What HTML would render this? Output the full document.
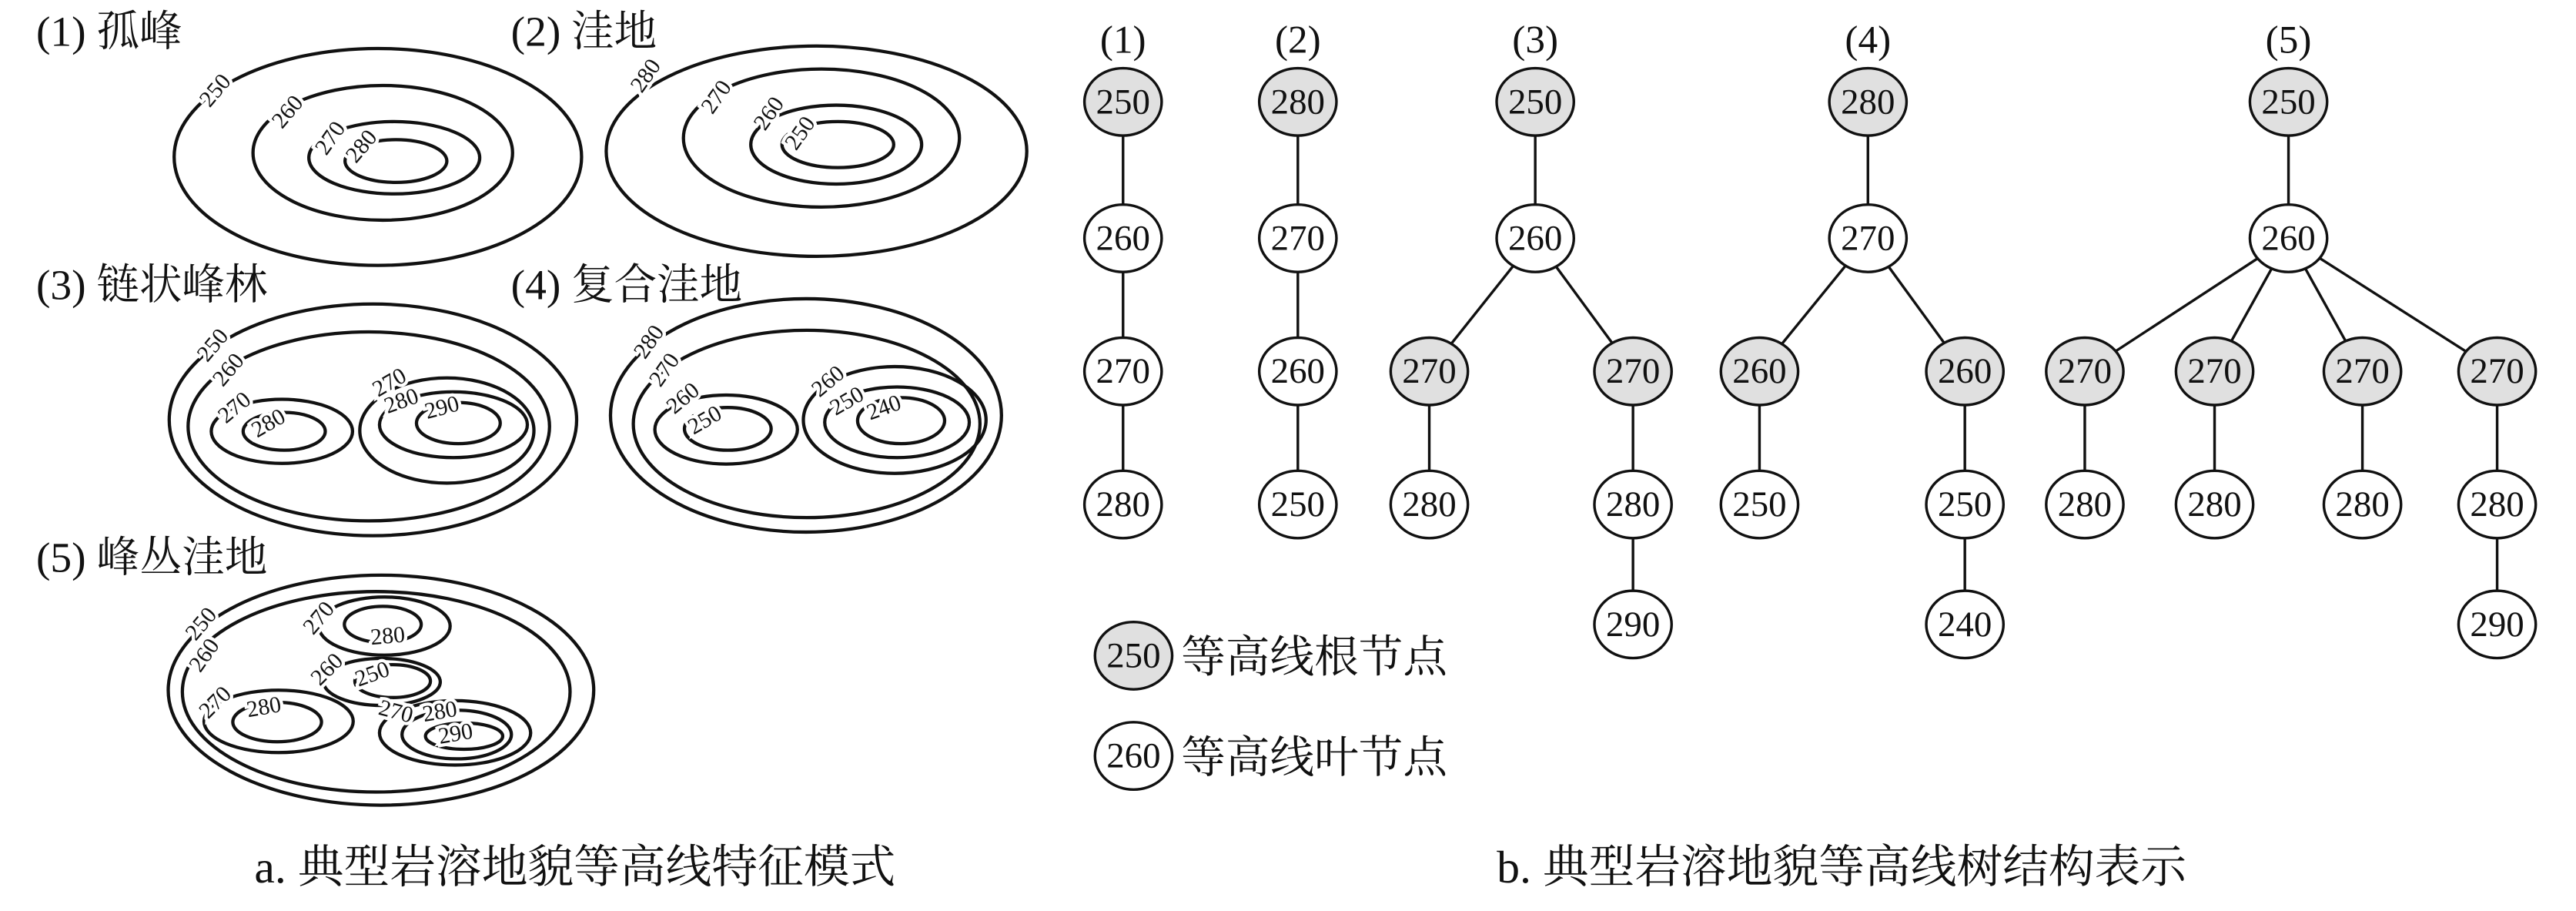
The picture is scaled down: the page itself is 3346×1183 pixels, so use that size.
<!DOCTYPE html>
<html><head><meta charset="utf-8"><style>
html,body{margin:0;padding:0;background:#fff;}
svg{display:block;}
text{font-family:"Liberation Serif","Noto Serif CJK SC",serif;fill:#111;}
.c{fill:none;stroke:#111;stroke-width:2;}
.l{font-size:14px;text-anchor:middle;dominant-baseline:central;}
.n{font-size:22px;text-anchor:middle;dominant-baseline:central;}
.e{stroke:#111;stroke-width:1.6;}
.h{font-size:26px;}
</style></head><body>
<svg width="3346" height="1183" viewBox="0 0 1568 554.4" preserveAspectRatio="none" xmlns="http://www.w3.org/2000/svg">
<text class="h" x="22" y="28">(1) 孤峰</text>
<text class="h" x="311" y="28">(2) 洼地</text>
<text class="h" x="22" y="182">(3) 链状峰林</text>
<text class="h" x="311" y="182">(4) 复合洼地</text>
<text class="h" x="22" y="348">(5) 峰丛洼地</text>
<!-- (1) -->
<ellipse class="c" cx="230" cy="95.5" rx="124" ry="66"/>
<ellipse class="c" cx="233" cy="93" rx="79" ry="41"/>
<ellipse class="c" cx="240" cy="96" rx="52" ry="22"/>
<ellipse class="c" cx="241" cy="98" rx="31" ry="13"/>
<!-- (2) -->
<ellipse class="c" cx="497" cy="92" rx="128" ry="64"/>
<ellipse class="c" cx="500" cy="84" rx="84" ry="42"/>
<ellipse class="c" cx="509" cy="88" rx="52" ry="24"/>
<ellipse class="c" cx="510" cy="88" rx="34" ry="14"/>
<!-- (3) -->
<ellipse class="c" cx="227" cy="255.5" rx="124" ry="70.5"/>
<ellipse class="c" cx="224.5" cy="259.5" rx="110" ry="57.5"/>
<ellipse class="c" cx="171.6" cy="262.5" rx="43" ry="19.5"/>
<ellipse class="c" cx="173" cy="262.5" rx="25" ry="11.5"/>
<ellipse class="c" cx="272" cy="262" rx="53" ry="32"/>
<ellipse class="c" cx="276" cy="258.5" rx="45" ry="20"/>
<ellipse class="c" cx="279" cy="257.5" rx="25.5" ry="12.5"/>
<!-- (4) -->
<ellipse class="c" cx="490.6" cy="252.8" rx="119" ry="71"/>
<ellipse class="c" cx="491" cy="258" rx="105.5" ry="57"/>
<ellipse class="c" cx="442" cy="261.4" rx="43.4" ry="21"/>
<ellipse class="c" cx="443" cy="261" rx="26.4" ry="13"/>
<ellipse class="c" cx="544.6" cy="255.6" rx="55.6" ry="32.5"/>
<ellipse class="c" cx="546" cy="257" rx="44" ry="21.5"/>
<ellipse class="c" cx="548.5" cy="256" rx="26.5" ry="14"/>
<!-- (5) -->
<ellipse class="c" cx="231.9" cy="420" rx="129.5" ry="70"/>
<ellipse class="c" cx="229" cy="421" rx="118" ry="61"/>
<ellipse class="c" cx="234" cy="381" rx="40" ry="17.7"/>
<ellipse class="c" cx="233" cy="380" rx="23.4" ry="11"/>
<ellipse class="c" cx="232.5" cy="415" rx="35.5" ry="14.3"/>
<ellipse class="c" cx="239" cy="414.5" rx="23" ry="10"/>
<ellipse class="c" cx="169.6" cy="439" rx="45.4" ry="19"/>
<ellipse class="c" cx="168.7" cy="439.4" rx="27" ry="12"/>
<ellipse class="c" cx="277" cy="446" rx="46" ry="19.6"/>
<ellipse class="c" cx="278" cy="447" rx="33.3" ry="14.8"/>
<ellipse class="c" cx="282.5" cy="448" rx="23.5" ry="8"/>
<g class="l" style="paint-order:stroke;stroke:#fff;stroke-width:4px">
<text transform="translate(131,55) rotate(-50)">250</text>
<text transform="translate(175,68) rotate(-50)">260</text>
<text transform="translate(201,84) rotate(-55)">270</text>
<text transform="translate(220,89) rotate(-50)">280</text>
<text transform="translate(393,46) rotate(-55)">280</text>
<text transform="translate(436,59) rotate(-55)">270</text>
<text transform="translate(468,69) rotate(-55)">260</text>
<text transform="translate(487,81) rotate(-55)">250</text>
<text transform="translate(129.5,210) rotate(-50)">250</text>
<text transform="translate(139,225) rotate(-50)">260</text>
<text transform="translate(142.7,248) rotate(-40)">270</text>
<text transform="translate(163.4,257.5) rotate(-30)">280</text>
<text transform="translate(237,232.7) rotate(-30)">270</text>
<text transform="translate(244.3,244) rotate(-20)">280</text>
<text transform="translate(269,248) rotate(-15)">290</text>
<text transform="translate(395,208) rotate(-55)">280</text>
<text transform="translate(404.4,225) rotate(-55)">270</text>
<text transform="translate(415.7,242.3) rotate(-40)">260</text>
<text transform="translate(429,255.6) rotate(-30)">250</text>
<text transform="translate(504,232) rotate(-40)">260</text>
<text transform="translate(515.5,244) rotate(-30)">250</text>
<text transform="translate(538,248) rotate(-20)">240</text>
<text transform="translate(122.4,379.6) rotate(-50)">250</text>
<text transform="translate(124.3,398.7) rotate(-55)">260</text>
<text transform="translate(194,376) rotate(-50)">270</text>
<text transform="translate(236,387) rotate(-5)">280</text>
<text transform="translate(199,407.3) rotate(-45)">260</text>
<text transform="translate(226.6,410.2) rotate(-20)">250</text>
<text transform="translate(131,427.4) rotate(-45)">270</text>
<text transform="translate(160.6,430.3) rotate(-10)">280</text>
<text transform="translate(241,433) rotate(15)">270</text>
<text transform="translate(267.7,433) rotate(-10)">280</text>
<text transform="translate(277.3,446.5) rotate(-10)">290</text>
</g>
<!-- trees -->
<g stroke="#111" stroke-width="1.6">
<line x1="683.6" y1="62" x2="683.6" y2="307"/>
<line x1="790" y1="62" x2="790" y2="307"/>
<line x1="934.5" y1="62" x2="934.5" y2="145"/>
<line x1="934.5" y1="145" x2="870" y2="226"/>
<line x1="934.5" y1="145" x2="994" y2="226"/>
<line x1="870" y1="226" x2="870" y2="307"/>
<line x1="994" y1="226" x2="994" y2="380"/>
<line x1="1137" y1="62" x2="1137" y2="145"/>
<line x1="1137" y1="145" x2="1071" y2="226"/>
<line x1="1137" y1="145" x2="1196" y2="226"/>
<line x1="1071" y1="226" x2="1071" y2="307"/>
<line x1="1196" y1="226" x2="1196" y2="380"/>
<line x1="1393" y1="62" x2="1393" y2="145"/>
<line x1="1393" y1="145" x2="1269" y2="226"/>
<line x1="1393" y1="145" x2="1348" y2="226"/>
<line x1="1393" y1="145" x2="1438" y2="226"/>
<line x1="1393" y1="145" x2="1520" y2="226"/>
<line x1="1269" y1="226" x2="1269" y2="307"/>
<line x1="1348" y1="226" x2="1348" y2="307"/>
<line x1="1438" y1="226" x2="1438" y2="307"/>
<line x1="1520" y1="226" x2="1520" y2="380"/>
</g>
<g font-size="24" text-anchor="middle">
<text x="683.6" y="32">(1)</text><text x="790" y="32">(2)</text><text x="934.5" y="32">(3)</text><text x="1137" y="32">(4)</text><text x="1393" y="32">(5)</text>
</g>
<g fill="#e0e0e0" class="e">
<ellipse cx="683.6" cy="62" rx="23.5" ry="20.5"/><ellipse cx="790" cy="62" rx="23.5" ry="20.5"/><ellipse cx="934.5" cy="62" rx="23.5" ry="20.5"/><ellipse cx="1137" cy="62" rx="23.5" ry="20.5"/><ellipse cx="1393" cy="62" rx="23.5" ry="20.5"/>
<ellipse cx="870" cy="226" rx="23.5" ry="20.5"/><ellipse cx="994" cy="226" rx="23.5" ry="20.5"/><ellipse cx="1071" cy="226" rx="23.5" ry="20.5"/><ellipse cx="1196" cy="226" rx="23.5" ry="20.5"/>
<ellipse cx="1269" cy="226" rx="23.5" ry="20.5"/><ellipse cx="1348" cy="226" rx="23.5" ry="20.5"/><ellipse cx="1438" cy="226" rx="23.5" ry="20.5"/><ellipse cx="1520" cy="226" rx="23.5" ry="20.5"/>
<ellipse cx="690" cy="399" rx="23.5" ry="20.5"/>
</g>
<g fill="#fff" class="e">
<ellipse cx="683.6" cy="145" rx="23.5" ry="20.5"/><ellipse cx="683.6" cy="226" rx="23.5" ry="20.5"/><ellipse cx="683.6" cy="307" rx="23.5" ry="20.5"/>
<ellipse cx="790" cy="145" rx="23.5" ry="20.5"/><ellipse cx="790" cy="226" rx="23.5" ry="20.5"/><ellipse cx="790" cy="307" rx="23.5" ry="20.5"/>
<ellipse cx="934.5" cy="145" rx="23.5" ry="20.5"/><ellipse cx="870" cy="307" rx="23.5" ry="20.5"/><ellipse cx="994" cy="307" rx="23.5" ry="20.5"/><ellipse cx="994" cy="380" rx="23.5" ry="20.5"/>
<ellipse cx="1137" cy="145" rx="23.5" ry="20.5"/><ellipse cx="1071" cy="307" rx="23.5" ry="20.5"/><ellipse cx="1196" cy="307" rx="23.5" ry="20.5"/><ellipse cx="1196" cy="380" rx="23.5" ry="20.5"/>
<ellipse cx="1393" cy="145" rx="23.5" ry="20.5"/><ellipse cx="1269" cy="307" rx="23.5" ry="20.5"/><ellipse cx="1348" cy="307" rx="23.5" ry="20.5"/><ellipse cx="1438" cy="307" rx="23.5" ry="20.5"/><ellipse cx="1520" cy="307" rx="23.5" ry="20.5"/><ellipse cx="1520" cy="380" rx="23.5" ry="20.5"/>
<ellipse cx="690" cy="460" rx="23.5" ry="20.5"/>
</g>
<g class="n">
<text x="683.6" y="62">250</text><text x="683.6" y="145">260</text><text x="683.6" y="226">270</text><text x="683.6" y="307">280</text>
<text x="790" y="62">280</text><text x="790" y="145">270</text><text x="790" y="226">260</text><text x="790" y="307">250</text>
<text x="934.5" y="62">250</text><text x="934.5" y="145">260</text><text x="870" y="226">270</text><text x="994" y="226">270</text><text x="870" y="307">280</text><text x="994" y="307">280</text><text x="994" y="380">290</text>
<text x="1137" y="62">280</text><text x="1137" y="145">270</text><text x="1071" y="226">260</text><text x="1196" y="226">260</text><text x="1071" y="307">250</text><text x="1196" y="307">250</text><text x="1196" y="380">240</text>
<text x="1393" y="62">250</text><text x="1393" y="145">260</text>
<text x="1269" y="226">270</text><text x="1348" y="226">270</text><text x="1438" y="226">270</text><text x="1520" y="226">270</text>
<text x="1269" y="307">280</text><text x="1348" y="307">280</text><text x="1438" y="307">280</text><text x="1520" y="307">280</text><text x="1520" y="380">290</text>
<text x="690" y="399">250</text><text x="690" y="460">260</text>
</g>
<text x="719" y="409" font-size="27">等高线根节点</text>
<text x="719" y="470" font-size="27">等高线叶节点</text>
<text x="350" y="537" font-size="28" text-anchor="middle">a. 典型岩溶地貌等高线特征模式</text>
<text x="1121" y="537" font-size="28" text-anchor="middle">b. 典型岩溶地貌等高线树结构表示</text>
</svg>
</body></html>
